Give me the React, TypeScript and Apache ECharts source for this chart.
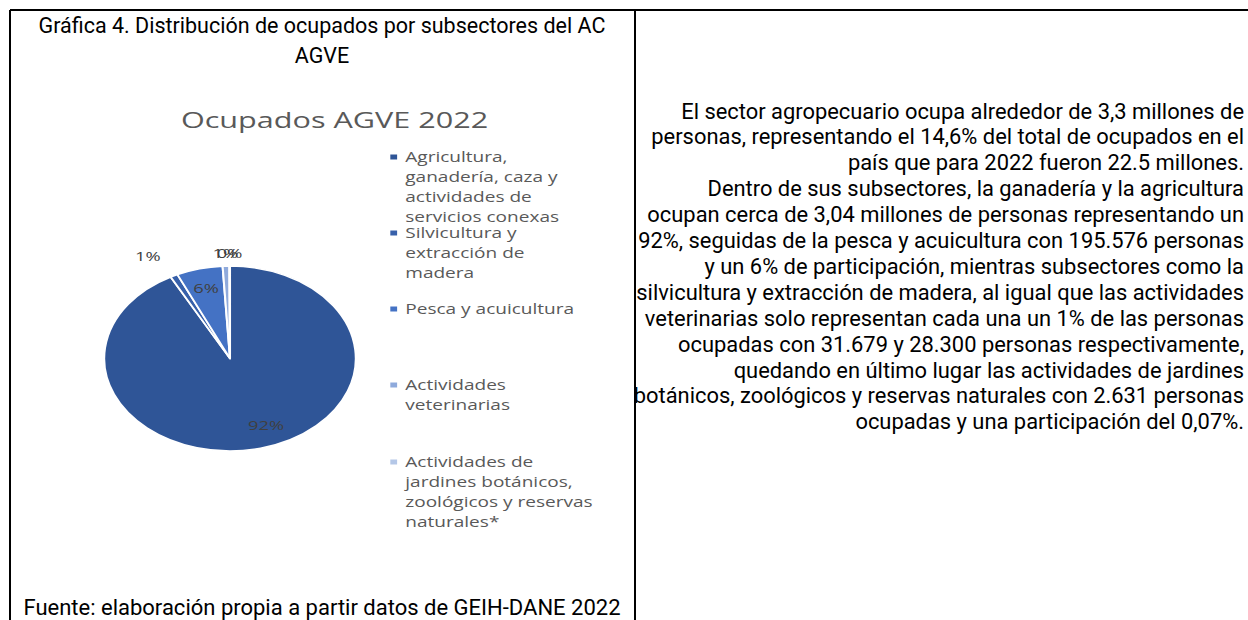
import React, { useEffect, useRef } from "react";
import * as echarts from "echarts";

// ---------- data ----------
const captionLines = ["Gráfica 4. Distribución de ocupados por subsectores del AC", "AGVE"];
const sourceText = "Fuente: elaboración propia a partir datos de GEIH-DANE 2022";
const paragraphLines = [
  "El sector agropecuario ocupa alrededor de 3,3 millones de",
  "personas, representando el 14,6% del total de ocupados en el",
  "país que para 2022 fueron 22.5 millones.",
  "Dentro de sus subsectores, la ganadería y la agricultura",
  "ocupan cerca de 3,04 millones de personas representando un",
  "92%, seguidas de la pesca y acuicultura con 195.576 personas",
  "y un 6% de participación, mientras subsectores como la",
  "silvicultura y extracción de madera, al igual que las actividades",
  "veterinarias solo representan cada una un 1% de las personas",
  "ocupadas con 31.679 y 28.300 personas respectivamente,",
  "quedando en último lugar las actividades de jardines",
  "botánicos, zoológicos y reservas naturales con 2.631 personas",
  "ocupadas y una participación del 0,07%.",
];
const chartTitle = "Ocupados AGVE 2022";
const categories = [
  "Agricultura, ganadería, caza y actividades de servicios conexas",
  "Silvicultura y extracción de madera",
  "Pesca y acuicultura",
  "Actividades veterinarias",
  "Actividades de jardines botánicos, zoológicos y reservas naturales*",
];
const legendLines = [
  ["Agricultura,", "ganadería, caza y", "actividades de", "servicios conexas"],
  ["Silvicultura y", "extracción de", "madera"],
  ["Pesca y acuicultura"],
  ["Actividades", "veterinarias"],
  ["Actividades de", "jardines botánicos,", "zoológicos y reservas", "naturales*"],
];
const ocupados = [3040000, 31679, 195576, 28300, 2631];

// ---------- styles ----------
const sliceColors = ["#2F5597", "#3760AA", "#4472C4", "#8FAADC", "#B4C7E7"];
const insideLabel = [true, false, true, false, false];
const centeredOutside = [false, false, false, true, true];
const outsideLineLen = [16, 22, 16, 13, 13];
const legendFirstLineY = [157, 233, 309, 385, 462];
const STRETCH = 1.36;
const docFont = "Roboto";
const chartFont = "'Open Sans'";

function PageText() {
  const ref = useRef<HTMLDivElement>(null);
  useEffect(() => {
    const chart = echarts.init(ref.current!, null, { renderer: "svg" });
    const graphic: any[] = [
      { type: "line", shape: { x1: 10, y1: 10, x2: 1248, y2: 10 }, style: { stroke: "#000", lineWidth: 2 } },
      { type: "line", shape: { x1: 10, y1: 10, x2: 10, y2: 620 }, style: { stroke: "#000", lineWidth: 2 } },
      { type: "line", shape: { x1: 635, y1: 10, x2: 635, y2: 620 }, style: { stroke: "#000", lineWidth: 2 } },
    ];
    captionLines.forEach((t, i) => {
      graphic.push({
        type: "text",
        style: { text: t, x: 322, y: 25 + i * 30, fill: "#000", font: `21.5px ${docFont}`, align: "center", verticalAlign: "middle" },
      });
    });
    graphic.push({
      type: "text",
      style: { text: sourceText, x: 322, y: 607, fill: "#000", font: `22px ${docFont}`, align: "center", verticalAlign: "middle" },
    });
    paragraphLines.forEach((t, i) => {
      graphic.push({
        type: "text",
        style: { text: t, x: 1244, y: 111 + i * 25.9, fill: "#000", font: `21.9px ${docFont}`, align: "right", verticalAlign: "middle" },
      });
    });
    chart.setOption({ animation: false, graphic });
    return () => chart.dispose();
  }, []);
  return <div ref={ref} style={{ position: "absolute", left: 0, top: 0, width: 1248, height: 620 }} />;
}

function PieImage() {
  const ref = useRef<HTMLDivElement>(null);
  useEffect(() => {
    const chart = echarts.init(ref.current!, null, { renderer: "svg" });
    const cx = 230 / STRETCH;
    const cy = 358.5;
    const R = 92.5;
    const legends = categories.map((name, i) => {
      const n = legendLines[i].length;
      // blank lines above keep the icon level with the first text line
      const text = "\n".repeat(n - 1) + legendLines[i].join("\n");
      return {
        data: [name],
        left: 285,
        top: legendFirstLineY[i] - 20 * n + 10,
        orient: "vertical",
        padding: 0,
        icon: "rect",
        itemWidth: 7,
        itemHeight: 7,
        selectedMode: false,
        formatter: () => text,
        textStyle: {
          fontFamily: chartFont,
          fontSize: 14,
          color: "#595959",
          lineHeight: 20,
        },
      };
    });
    chart.setOption({
      animation: false,
      title: {
        text: chartTitle,
        left: 133,
        top: 108,
        padding: 0,
        textStyle: { fontFamily: chartFont, fontSize: 22.5, fontWeight: "normal", color: "#595959" },
      },
      legend: legends,
      series: [
        {
          type: "pie",
          center: [cx, cy],
          radius: R,
          startAngle: 90,
          clockwise: true,
          avoidLabelOverlap: false,
          percentPrecision: 0,
          itemStyle: { borderColor: "#fff", borderWidth: 1.5 },
          label: {
            position: "outside",
            formatter: "{d}%",
            fontFamily: chartFont,
            fontSize: 13.5,
            color: "#404040",
            distanceToLabelLine: 0,
          },
          labelLine: { show: false, length: 16, length2: 0 },
          labelLayout: (p: any) =>
            centeredOutside[p.dataIndex] ? { dx: p.labelRect.width / 2 } : {},
          emphasis: { disabled: true },
          data: categories.map((name, i) => ({
            name,
            value: ocupados[i],
            itemStyle: { color: sliceColors[i] },
            label: { show: !insideLabel[i] },
            labelLine: { show: false, length: outsideLineLen[i], length2: 0 },
          })),
        },
        {
          type: "pie",
          center: [cx, cy],
          radius: [R / 2, R],
          startAngle: 90,
          clockwise: true,
          silent: true,
          avoidLabelOverlap: false,
          percentPrecision: 0,
          itemStyle: { color: "rgba(0,0,0,0)", borderWidth: 0 },
          label: {
            position: "inside",
            formatter: "{d}%",
            fontFamily: chartFont,
            fontSize: 13.5,
            color: "#404040",
          },
          labelLine: { show: false },
          labelLayout: (p: any) => (p.dataIndex === 0 ? { dx: 9, dy: -4 } : {}),
          emphasis: { disabled: true },
          data: categories.map((name, i) => ({
            name,
            value: ocupados[i],
            label: { show: insideLabel[i] },
          })),
        },
      ],
    });
    return () => chart.dispose();
  }, []);
  return (
    <div
      ref={ref}
      style={{
        position: "absolute",
        left: 0,
        top: 0,
        width: 470,
        height: 620,
        transform: `scaleX(${STRETCH})`,
        transformOrigin: "0 0",
      }}
    />
  );
}

export default function App() {
  return (
    <div style={{ position: "absolute", left: 0, top: 0, width: 1248, height: 620, overflow: "hidden", background: "#fff" }}>
      <PageText />
      <PieImage />
    </div>
  );
}
